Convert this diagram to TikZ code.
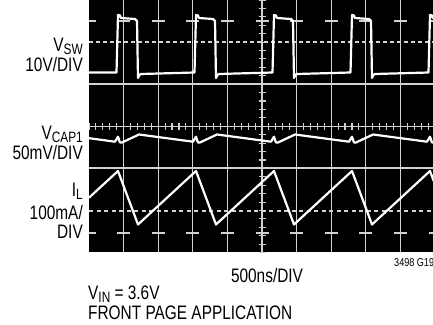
\documentclass[tikz,border=0pt]{standalone}
\usepackage{fontspec}
\setmainfont{Liberation Sans}[FakeStretch=0.79]
\usepackage{tikz}

\newcommand{\lowsub}[1]{\raisebox{-3pt}[0pt][0pt]{\fontsize{15}{15}\selectfont #1}}

\begin{document}
\begin{tikzpicture}[x=1pt, y=-1pt,
        scopegrid/.style={draw=gray!35, line width=1.3pt},
        scopetick/.style={draw=gray!35, line width=1.1pt},
        trace/.style={draw=white, line width=2.2pt, line join=round},
        lbl/.style={inner sep=0pt, font=\fontsize{19.5}{19.5}\selectfont}]
        \useasboundingbox (0,0) rectangle (433,324);
        \fill[black] (89,0) rectangle (433,252);

        \begin{scope}
        \clip (89,0) rectangle (433,252);
        % graticule
        \foreach \k in {1,...,9}
                \draw[scopegrid] (89+34.6*\k, 0) -- (89+34.6*\k, 252);
        \draw[scopegrid] (89, 84) -- (433, 84);
        \draw[scopegrid] (89, 126.5) -- (433, 126.5);
        \draw[scopegrid] (89, 168) -- (433, 168);
        \draw[scopegrid, dash pattern=on 4pt off 3pt] (89, 42) -- (433, 42);
        \draw[scopegrid, dash pattern=on 4pt off 3.5pt] (89, 211) -- (433, 211);
        \foreach \k in {0,...,10} {
                \draw[scopegrid] (89+34.6*\k-6.5, 21) -- (89+34.6*\k+6.5, 21);
                \draw[scopegrid] (89+34.6*\k-6.5, 233) -- (89+34.6*\k+6.5, 233);
        }
        \foreach \j in {0,...,30}
                \draw[scopetick] (258.5, 8.42*\j) -- (265.5, 8.42*\j);
        \foreach \j in {0,...,50}
                \draw[scopetick] (89+6.92*\j, 123) -- (89+6.92*\j, 130);

        % traces
        \draw[trace] (89, 72.5) foreach \r in {117,195,273,351,429} {
                -- (\r-0.5, 72.5) -- (\r+1, 15) -- (\r+3, 15.5) -- (\r+4, 18)
                -- (\r+18, 19) -- (\r+20, 21) -- (\r+21, 78) -- (\r+22.5, 75) -- (\r+24, 74) };
        \draw[trace] (89, 138.2) foreach \r in {117,195,273,351,429} {
                -- (\r-2, 141.7) -- (\r+1, 136.7) -- (\r+3, 142.5) -- (\r+5, 142.5) -- (\r+22, 134.5) };
        \draw[trace] (89, 197.7) foreach \r in {117,195,273,351,429} {
                -- (\r+1, 171) -- (\r+21, 224.5) };
        \end{scope}

        \node[lbl, anchor=base east] (vsw) at (83, 51) {V\lowsub{SW}};
        \node[lbl, anchor=base east] (vswdiv) at (83, 71) {10V/DIV};
        \node[lbl, anchor=base east] (vcap) at (83, 139) {V\lowsub{CAP1}};
        \node[lbl, anchor=base east] (vcapdiv) at (83, 159) {50mV/DIV};
        \node[lbl, anchor=base east] (il) at (83, 196) {I\lowsub{L}};
        \node[lbl, anchor=base east] (ildiv) at (83, 219) {100mA/};
        \node[lbl, anchor=base east] (ildivb) at (83, 238) {DIV};
        \node[lbl, anchor=base] (tdiv) at (267, 282) {500ns/DIV};
        \node[lbl, anchor=base west, font=\fontsize{11.5}{11.5}\selectfont] (fignum) at (394, 266) {3498 G19};
        \node[lbl, anchor=base west] (vin) at (88, 299) {V\lowsub{IN} = 3.6V};
        \node[lbl, anchor=base west] (app) at (88, 319) {FRONT PAGE APPLICATION};
\end{tikzpicture}
\end{document}
